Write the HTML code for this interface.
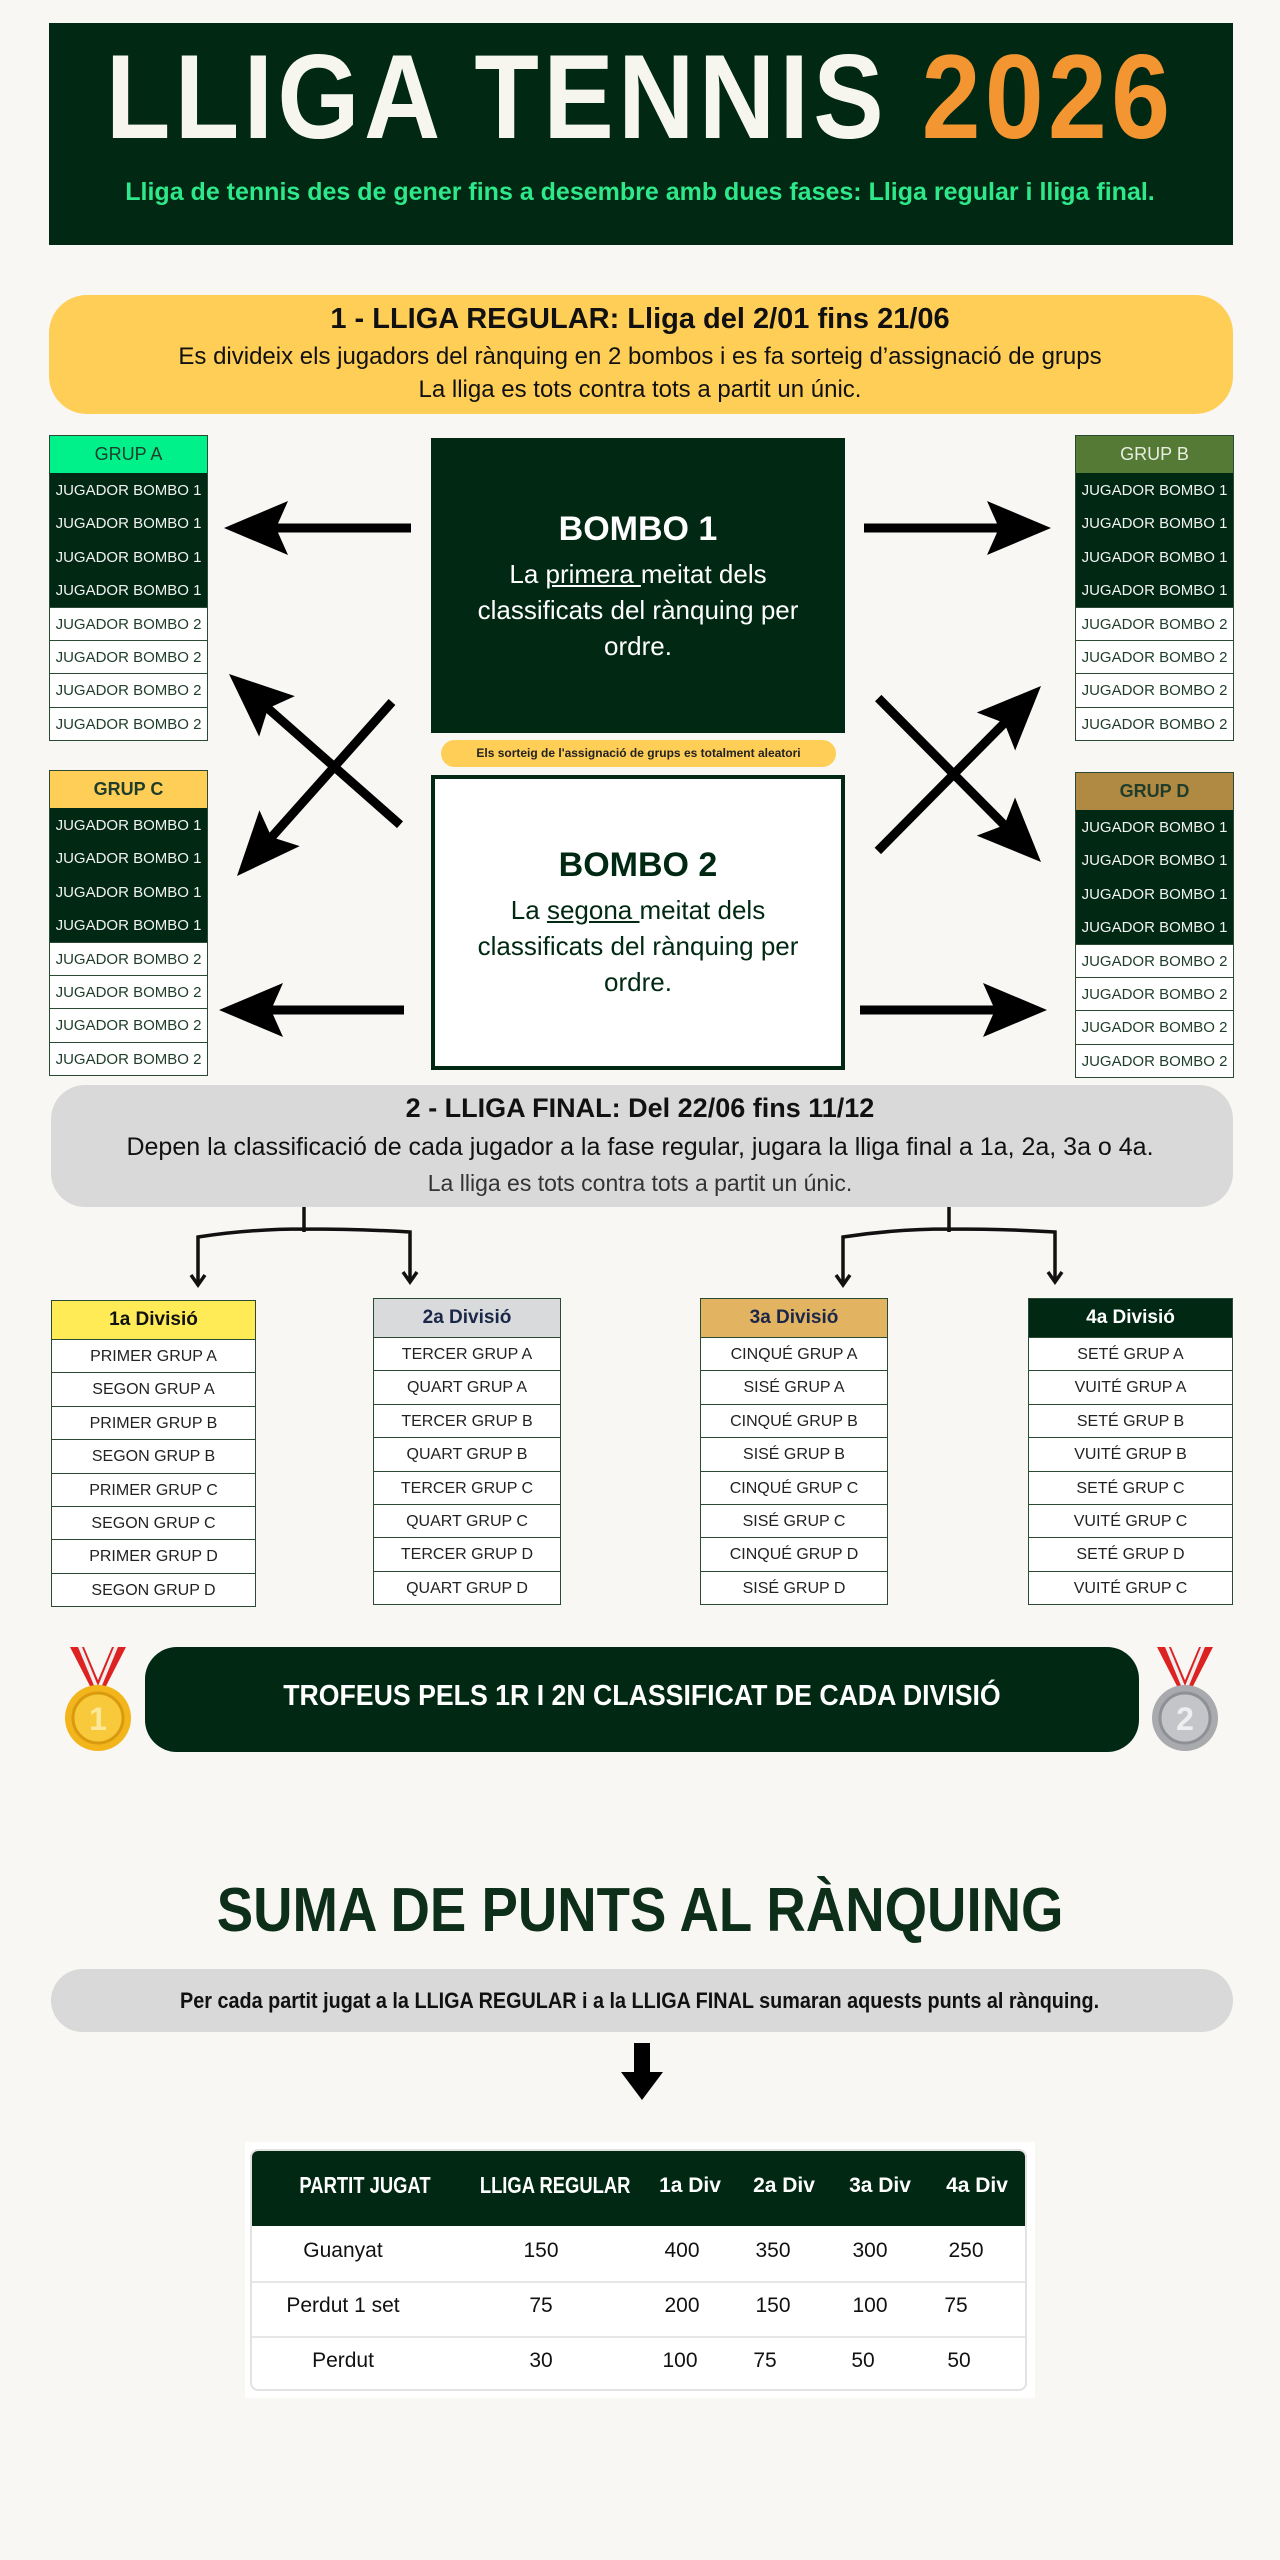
<!DOCTYPE html>
<html><head><meta charset="utf-8"><style>
*{margin:0;padding:0;box-sizing:border-box}
body{width:1280px;height:2560px;background:#f8f7f3;position:relative;font-family:"Liberation Sans",sans-serif;overflow:hidden}
.a{position:absolute}
.c{text-align:center;white-space:nowrap}
.grp{position:absolute;width:159px;border:1px solid #2b4a33}
.grp div{height:33.4px;line-height:33.4px;font-size:15px;text-align:center;border-top:1px solid #c9d1cb;white-space:nowrap}
.grp .h{height:37px;line-height:37px;font-size:18px;border-top:none}
.grp .d{background:#002813;color:#f2f2f2;border-top:1px solid #002813}
.grp .w{background:#fff;color:#1f3d2a;border-top:1px solid #2b4a33}
.div{position:absolute;border:1px solid #2b4a33;background:#fff}
.div div{height:33.4px;line-height:33.4px;font-size:16px;text-align:center;border-top:1px solid #2b4a33;color:#222}
.div .h{height:38px;line-height:38px;font-size:19px;font-weight:bold;border-top:none}
</style></head><body>

<div class="a" style="left:49px;top:23px;width:1184px;height:222px;background:#002813"></div>
<div class="a c" style="left:0;top:32px;width:1280px;height:130px;line-height:130px;font-size:120px;font-weight:bold;color:#f6f6ee;"><span style="display:inline-block;transform:scaleX(0.88);letter-spacing:5px">LLIGA TENNIS <span style="color:#f39530">2026</span></span></div>
<div class="a c" style="left:0;top:178px;width:1280px;font-size:25px;font-weight:bold;color:#2ee88a">Lliga de tennis des de gener fins a desembre amb dues fases: Lliga regular i lliga final.</div>

<div class="a" style="left:49px;top:295px;width:1184px;height:119px;background:#ffce57;border-radius:38px"></div>
<div class="a c" style="left:0;top:303px;width:1280px;font-size:29px;font-weight:bold;color:#111">1 - LLIGA REGULAR: Lliga del 2/01 fins 21/06</div>
<div class="a c" style="left:0;top:343px;width:1280px;font-size:24px;color:#111">Es divideix els jugadors del rànquing en 2 bombos i es fa sorteig d’assignació de grups</div>
<div class="a c" style="left:0;top:376px;width:1280px;font-size:24px;color:#111">La lliga es tots contra tots a partit un únic.</div>

<div class="grp" style="left:49px;top:435px">
<div class="h" style="background:#00f08a;color:#1f3d2a">GRUP A</div>
<div class="d">JUGADOR BOMBO 1</div><div class="d">JUGADOR BOMBO 1</div><div class="d">JUGADOR BOMBO 1</div><div class="d">JUGADOR BOMBO 1</div>
<div class="w">JUGADOR BOMBO 2</div><div class="w">JUGADOR BOMBO 2</div><div class="w">JUGADOR BOMBO 2</div><div class="w">JUGADOR BOMBO 2</div>
</div>
<div class="grp" style="left:1075px;top:435px">
<div class="h" style="background:#557a35;color:#e8efe0">GRUP B</div>
<div class="d">JUGADOR BOMBO 1</div><div class="d">JUGADOR BOMBO 1</div><div class="d">JUGADOR BOMBO 1</div><div class="d">JUGADOR BOMBO 1</div>
<div class="w">JUGADOR BOMBO 2</div><div class="w">JUGADOR BOMBO 2</div><div class="w">JUGADOR BOMBO 2</div><div class="w">JUGADOR BOMBO 2</div>
</div>
<div class="grp" style="left:49px;top:770px">
<div class="h" style="background:#ffce57;color:#1f3d2a;font-weight:bold">GRUP C</div>
<div class="d">JUGADOR BOMBO 1</div><div class="d">JUGADOR BOMBO 1</div><div class="d">JUGADOR BOMBO 1</div><div class="d">JUGADOR BOMBO 1</div>
<div class="w">JUGADOR BOMBO 2</div><div class="w">JUGADOR BOMBO 2</div><div class="w">JUGADOR BOMBO 2</div><div class="w">JUGADOR BOMBO 2</div>
</div>
<div class="grp" style="left:1075px;top:772px">
<div class="h" style="background:#b08a42;color:#1f3d2a;font-weight:bold">GRUP D</div>
<div class="d">JUGADOR BOMBO 1</div><div class="d">JUGADOR BOMBO 1</div><div class="d">JUGADOR BOMBO 1</div><div class="d">JUGADOR BOMBO 1</div>
<div class="w">JUGADOR BOMBO 2</div><div class="w">JUGADOR BOMBO 2</div><div class="w">JUGADOR BOMBO 2</div><div class="w">JUGADOR BOMBO 2</div>
</div>

<div class="a" style="left:431px;top:438px;width:414px;height:295px;background:#002813"></div>
<div class="a c" style="left:431px;top:510px;width:414px;font-size:34px;font-weight:bold;color:#fff">BOMBO 1</div>
<div class="a c" style="left:431px;top:556px;width:414px;font-size:26px;line-height:36px;color:#fff">La <u>primera </u>meitat dels<br>classificats del rànquing per<br>ordre.</div>
<div class="a c" style="left:441px;top:740px;width:395px;height:27px;line-height:27px;background:#ffce57;border-radius:14px;font-size:12px;font-weight:bold;color:#222">Els sorteig de l'assignació de grups es totalment aleatori</div>
<div class="a" style="left:431px;top:775px;width:414px;height:295px;background:#fff;border:4px solid #002813"></div>
<div class="a c" style="left:431px;top:846px;width:414px;font-size:34px;font-weight:bold;color:#002813">BOMBO 2</div>
<div class="a c" style="left:431px;top:892px;width:414px;font-size:26px;line-height:36px;color:#002813">La <u>segona </u>meitat dels<br>classificats del rànquing per<br>ordre.</div>

<svg class="a" style="left:0;top:0" width="1280" height="2560">
<defs><g id="ah"><polygon points="0,0 -64,-27 -52,0 -64,27" fill="#000"/></g></defs>
<g transform="translate(224,528) rotate(180)"><line x1="-50" y1="0" x2="-187" y2="0" stroke="#000" stroke-width="9"/><use href="#ah"/></g>
<g transform="translate(1051,528)"><line x1="-50" y1="0" x2="-187" y2="0" stroke="#000" stroke-width="9"/><use href="#ah"/></g>
<g transform="translate(219,1010) rotate(180)"><line x1="-50" y1="0" x2="-185" y2="0" stroke="#000" stroke-width="9"/><use href="#ah"/></g>
<g transform="translate(1047,1010)"><line x1="-50" y1="0" x2="-187" y2="0" stroke="#000" stroke-width="9"/><use href="#ah"/></g>
<g transform="translate(229,674) rotate(221.4)"><line x1="-50" y1="0" x2="-228" y2="0" stroke="#000" stroke-width="9"/><use href="#ah"/></g>
<g transform="translate(237,876) rotate(131.7)"><line x1="-50" y1="0" x2="-233" y2="0" stroke="#000" stroke-width="9"/><use href="#ah"/></g>
<g transform="translate(1041,862) rotate(45.2)"><line x1="-50" y1="0" x2="-231" y2="0" stroke="#000" stroke-width="9"/><use href="#ah"/></g>
<g transform="translate(1041,686) rotate(-45.3)"><line x1="-50" y1="0" x2="-232" y2="0" stroke="#000" stroke-width="9"/><use href="#ah"/></g>
<g fill="none" stroke="#111" stroke-width="3.5">
<path d="M304,1207 V1232 M198,1283 V1237 Q250,1229 304,1229 Q360,1229 410,1232 V1280"/>
<path d="M949,1207 V1232 M843,1283 V1237 Q895,1229 949,1229 Q1005,1229 1055,1232 V1280"/>
<path d="M191,1275 L198,1285 L205,1275 M403,1272 L410,1282 L417,1272 M836,1275 L843,1285 L850,1275 M1048,1272 L1055,1282 L1062,1272"/>
</g>
<rect x="634" y="2043" width="16" height="35" fill="#000"/>
<polygon points="621,2072 663,2072 642,2100" fill="#000"/>
<g>
<polygon points="70,1647 84,1647 100,1685 92,1690" fill="#d22"/>
<polygon points="126,1647 112,1647 96,1685 104,1690" fill="#d22"/>
<polygon points="78,1647 82,1647 98,1686 95,1688" fill="#eee"/>
<polygon points="118,1647 114,1647 98,1686 101,1688" fill="#eee"/>
<circle cx="98" cy="1718" r="33" fill="#f2b51c"/><circle cx="98" cy="1718" r="25" fill="#f8c93a" stroke="#d99a10" stroke-width="3"/>
<text x="98" y="1730" text-anchor="middle" font-family="Liberation Sans" font-weight="bold" font-size="32" fill="#fde79a">1</text>
<polygon points="1157,1647 1171,1647 1187,1685 1179,1690" fill="#d22"/>
<polygon points="1213,1647 1199,1647 1183,1685 1191,1690" fill="#d22"/>
<polygon points="1165,1647 1169,1647 1185,1686 1182,1688" fill="#eee"/>
<polygon points="1205,1647 1201,1647 1185,1686 1188,1688" fill="#eee"/>
<circle cx="1185" cy="1718" r="33" fill="#a9aaae"/><circle cx="1185" cy="1718" r="25" fill="#c4c5c9" stroke="#8f9095" stroke-width="3"/>
<text x="1185" y="1730" text-anchor="middle" font-family="Liberation Sans" font-weight="bold" font-size="32" fill="#eee">2</text>
</g>
</svg>

<div class="a" style="left:51px;top:1085px;width:1182px;height:122px;background:#d9d9d9;border-radius:34px"></div>
<div class="a c" style="left:0;top:1093px;width:1280px;font-size:27px;font-weight:bold;color:#111">2 - LLIGA FINAL: Del 22/06 fins 11/12</div>
<div class="a c" style="left:0;top:1133px;width:1280px;font-size:25px;color:#111">Depen la classificació de cada jugador a la fase regular, jugara la lliga final a 1a, 2a, 3a o 4a.</div>
<div class="a c" style="left:0;top:1170px;width:1280px;font-size:23px;color:#333">La lliga es tots contra tots a partit un únic.</div>

<div class="div" style="left:51px;top:1300px;width:205px">
<div class="h" style="background:#ffeb55;color:#111">1a Divisió</div>
<div>PRIMER GRUP A</div><div>SEGON GRUP A</div><div>PRIMER GRUP B</div><div>SEGON GRUP B</div><div>PRIMER GRUP C</div><div>SEGON GRUP C</div><div>PRIMER GRUP D</div><div>SEGON GRUP D</div>
</div>
<div class="div" style="left:373px;top:1298px;width:188px">
<div class="h" style="background:#d9dadc;color:#1b2748">2a Divisió</div>
<div>TERCER GRUP A</div><div>QUART GRUP A</div><div>TERCER GRUP B</div><div>QUART GRUP B</div><div>TERCER GRUP C</div><div>QUART GRUP C</div><div>TERCER GRUP D</div><div>QUART GRUP D</div>
</div>
<div class="div" style="left:700px;top:1298px;width:188px">
<div class="h" style="background:#e2b361;color:#1b2748">3a Divisió</div>
<div>CINQUÉ GRUP A</div><div>SISÉ GRUP A</div><div>CINQUÉ GRUP B</div><div>SISÉ GRUP B</div><div>CINQUÉ GRUP C</div><div>SISÉ GRUP C</div><div>CINQUÉ GRUP D</div><div>SISÉ GRUP D</div>
</div>
<div class="div" style="left:1028px;top:1298px;width:205px">
<div class="h" style="background:#002813;color:#fff">4a Divisió</div>
<div>SETÉ GRUP A</div><div>VUITÉ GRUP A</div><div>SETÉ GRUP B</div><div>VUITÉ GRUP B</div><div>SETÉ GRUP C</div><div>VUITÉ GRUP C</div><div>SETÉ GRUP D</div><div>VUITÉ GRUP C</div>
</div>

<div class="a" style="left:145px;top:1647px;width:994px;height:105px;background:#002813;border-radius:32px"></div>
<div class="a c" style="left:145px;top:1680px;width:994px;font-size:29px;font-weight:bold;color:#fff"><span style="display:inline-block;transform:scaleX(0.92)">TROFEUS PELS 1R I 2N CLASSIFICAT DE CADA DIVISIÓ</span></div>

<div class="a c" style="left:0;top:1875px;width:1280px;font-size:62px;font-weight:bold;color:#0d2e18"><span style="display:inline-block;transform:scaleX(0.88)">SUMA DE PUNTS AL RÀNQUING</span></div>
<div class="a" style="left:51px;top:1969px;width:1182px;height:63px;background:#d9d9d9;border-radius:32px"></div>
<div class="a c" style="left:0;top:1988px;width:1280px;font-size:22px;font-weight:bold;color:#111"><span style="display:inline-block;transform:scaleX(0.9)">Per cada partit jugat a la LLIGA REGULAR i a la LLIGA FINAL sumaran aquests punts al rànquing.</span></div>

<div class="a" style="left:245px;top:2142px;width:790px;height:256px;background:#fff"></div>
<div class="a" style="left:250px;top:2149px;width:777px;height:242px;border:2px solid #e2e2e2;border-radius:8px;overflow:hidden;background:#fff">
<div class="a" style="left:0;top:0;width:777px;height:75px;background:#002813"></div>
<div class="a" style="left:0;top:130px;width:777px;height:2px;background:#e6e6e6"></div>
<div class="a" style="left:0;top:185px;width:777px;height:2px;background:#e6e6e6"></div>
</div>
<div class="a" style="left:0;top:0;font-size:21px">
<div class="a c" style="left:283px;top:2172px;width:120px;color:#fff;font-weight:bold;font-size:23px"><span style="display:inline-block;transform:scaleX(0.8)">PARTIT JUGAT</span></div>
<div class="a c" style="left:461px;top:2172px;width:160px;color:#fff;font-weight:bold;font-size:23px"><span style="display:inline-block;transform:scaleX(0.8)">LLIGA REGULAR</span></div>
<div class="a c" style="left:650px;top:2174px;width:80px;color:#fff;font-weight:bold;font-size:21px">1a Div</div>
<div class="a c" style="left:744px;top:2174px;width:80px;color:#fff;font-weight:bold;font-size:21px">2a Div</div>
<div class="a c" style="left:840px;top:2174px;width:80px;color:#fff;font-weight:bold;font-size:21px">3a Div</div>
<div class="a c" style="left:937px;top:2174px;width:80px;color:#fff;font-weight:bold;font-size:21px">4a Div</div>

<div class="a c" style="left:283px;top:2239px;width:120px;color:#111">Guanyat</div>
<div class="a c" style="left:501px;top:2239px;width:80px;color:#111">150</div>
<div class="a c" style="left:642px;top:2239px;width:80px;color:#111">400</div>
<div class="a c" style="left:733px;top:2239px;width:80px;color:#111">350</div>
<div class="a c" style="left:830px;top:2239px;width:80px;color:#111">300</div>
<div class="a c" style="left:926px;top:2239px;width:80px;color:#111">250</div>

<div class="a c" style="left:283px;top:2294px;width:120px;color:#111">Perdut 1 set</div>
<div class="a c" style="left:501px;top:2294px;width:80px;color:#111">75</div>
<div class="a c" style="left:642px;top:2294px;width:80px;color:#111">200</div>
<div class="a c" style="left:733px;top:2294px;width:80px;color:#111">150</div>
<div class="a c" style="left:830px;top:2294px;width:80px;color:#111">100</div>
<div class="a c" style="left:916px;top:2294px;width:80px;color:#111">75</div>

<div class="a c" style="left:283px;top:2349px;width:120px;color:#111">Perdut</div>
<div class="a c" style="left:501px;top:2349px;width:80px;color:#111">30</div>
<div class="a c" style="left:640px;top:2349px;width:80px;color:#111">100</div>
<div class="a c" style="left:725px;top:2349px;width:80px;color:#111">75</div>
<div class="a c" style="left:823px;top:2349px;width:80px;color:#111">50</div>
<div class="a c" style="left:919px;top:2349px;width:80px;color:#111">50</div>
</div>

</body></html>
